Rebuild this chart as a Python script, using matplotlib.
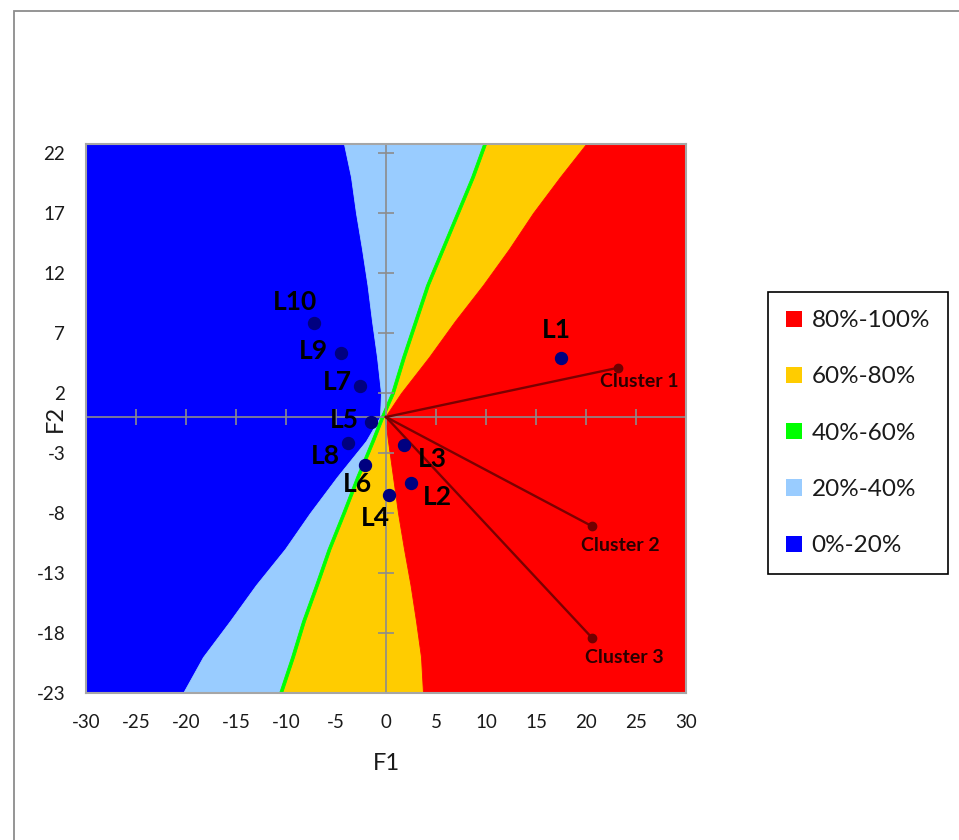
import matplotlib
matplotlib.use('Agg')
import matplotlib.pyplot as plt
from matplotlib.patches import Patch, Rectangle
import numpy as np

plt.rcParams['font.family'] = ['Lato', 'DejaVu Sans']
plt.rcParams['axes.unicode_minus'] = False

# ---- data ----
# preference-map zone edges (x of each edge at the given F2 levels)
band_y = [22.75, 20, 17, 14, 11, 8, 5, 2, 0, -2, -5, -8, -11, -14, -17, -20, -23]
edge_blue = [-4.2, -3.5, -3.0, -2.4, -1.85, -1.4, -0.9, -0.5, -0.6,
             -2.0, -4.9, -7.6, -10.1, -13.0, -15.6, -18.3, -20.3]
edge_green = [10.0, 8.8, 7.3, 5.8, 4.3, 3.1, 1.9, 0.8, -0.25,
              -1.2, -2.7, -4.1, -5.55, -6.8, -8.1, -9.2, -10.4]
edge_red = [20.0, 17.4, 14.7, 12.3, 9.7, 6.9, 4.3, 1.5, -0.1,
            0.2, 0.7, 1.2, 1.8, 2.45, 3.0, 3.5, 3.7]

prod_names = ["L1", "L2", "L3", "L4", "L5", "L6", "L7", "L8", "L9", "L10"]
prod_f1 = [17.5, 2.5, 1.8, 0.25, -1.5, -2.1, -2.6, -3.8, -4.5, -7.2]
prod_f2 = [4.9, -5.5, -2.3, -6.5, -0.4, -4.0, 2.6, -2.2, 5.3, 7.8]
# label offsets (pixels, right / down)
prod_dx = [-5, 26, 28, -13, -27, -8, -23, -23, -28, -19]
prod_dy = [-28, 14, 14, 23, -2, 19, -4, 13, -2, -21]

cluster_names = ["Cluster 1", "Cluster 2", "Cluster 3"]
cluster_f1 = [23.2, 20.6, 20.6]
cluster_f2 = [4.1, -9.1, -18.4]
cluster_dx = [21, 28, 32]
cluster_dy = [14, 19, 20]

legend_labels = ["80%-100%", "60%-80%", "40%-60%", "20%-40%", "0%-20%"]
legend_colors = ["#FF0000", "#FFCC00", "#00FF00", "#99CCFF", "#0000FF"]

x_ticks = [-30, -25, -20, -15, -10, -5, 0, 5, 10, 15, 20, 25, 30]
y_ticks = [22, 17, 12, 7, 2, -3, -8, -13, -18, -23]

# ---- figure ----
W, H = 959, 840
fig = plt.figure(figsize=(W / 100, H / 100), dpi=100)
fig.patches.append(Rectangle((14 / W, -0.1), 1.2, 1 - 11 / H + 0.1,
                             transform=fig.transFigure, fill=False,
                             edgecolor='#8C8C8C', lw=1.3))

ax = fig.add_axes([86 / W, 1 - 693 / H, 600 / W, 549 / H])
ax.set_xlim(-30, 30)
ax.set_ylim(-23, 22.75)

red, orange, green, lblue, blue = legend_colors
kw = dict(lw=0.6, zorder=1)
ax.fill_betweenx(band_y, -30, edge_blue, color=blue, **kw)
ax.fill_betweenx(band_y, edge_blue, edge_green, color=lblue, **kw)
ax.fill_betweenx(band_y, edge_green, edge_red, color=orange, **kw)
ax.fill_betweenx(band_y, edge_red, 30, color=red, **kw)
ax.fill_betweenx(band_y, np.array(edge_green) - 0.3, edge_green, color=green, **kw)

gray = '#8C8C8C'
ax.axhline(0, color=gray, lw=1.2, zorder=3)
ax.axvline(0, color=gray, lw=1.2, zorder=3)
ax.plot(x_ticks, np.zeros(len(x_ticks)), ls='none', marker='|', ms=12, mew=1.2,
        color=gray, zorder=3, clip_on=False)
ax.plot(np.zeros(len(y_ticks)), y_ticks, ls='none', marker='_', ms=12, mew=1.2,
        color=gray, zorder=3, clip_on=False)

for cx, cy in zip(cluster_f1, cluster_f2):
    ax.plot([0, cx], [0, cy], color='#7A0000', lw=1.7, zorder=4)
ax.plot(cluster_f1, cluster_f2, ls='none', marker='o', ms=6, color='#700000', zorder=5)
for name, cx, cy, dx, dy in zip(cluster_names, cluster_f1, cluster_f2, cluster_dx, cluster_dy):
    ax.annotate(name, (cx, cy), xytext=(dx * 0.72, -dy * 0.72), textcoords='offset points',
                ha='center', va='center', fontsize=14, fontweight='bold', color='#2A0000',
                zorder=6)

ax.plot(prod_f1, prod_f2, ls='none', marker='o', ms=8.6, color='#000080', zorder=6)
for name, px, py, dx, dy in zip(prod_names, prod_f1, prod_f2, prod_dx, prod_dy):
    ax.annotate(name, (px, py), xytext=(dx * 0.72, -dy * 0.72), textcoords='offset points',
                ha='center', va='center', fontsize=19, fontweight='bold', color='black',
                zorder=7)

ax.set_xticks(x_ticks)
ax.set_yticks(y_ticks)
ax.tick_params(axis='both', length=0, labelsize=13.5, colors='#1A1A1A')
ax.tick_params(axis='x', pad=15)
ax.tick_params(axis='y', pad=15)
for s in ax.spines.values():
    s.set_color('#A6A6A6')
    s.set_linewidth(1.5)
    s.set_zorder(8)

fig.text(386 / W, 1 - 764 / H, 'F1', ha='center', va='center', fontsize=17, color='#1A1A1A')
fig.text(55 / W, 1 - 418 / H, 'F2', ha='center', va='center', fontsize=17,
         rotation=90, color='#1A1A1A')

handles = [Patch(facecolor=c, edgecolor='none') for c in legend_colors]
leg = fig.legend(handles, legend_labels, loc='upper left',
                 bbox_to_anchor=(768 / W, 1 - 292 / H), frameon=True, fancybox=False,
                 edgecolor='black', framealpha=1, fontsize=17.5, handlelength=0.65,
                 handleheight=0.65, handletextpad=0.4, labelspacing=1.45,
                 borderpad=0.75, borderaxespad=0)
leg.get_frame().set_linewidth(1.2)
for t in leg.get_texts():
    t.set_color('#1A1A1A')

fig.savefig('out.png', dpi=100)
